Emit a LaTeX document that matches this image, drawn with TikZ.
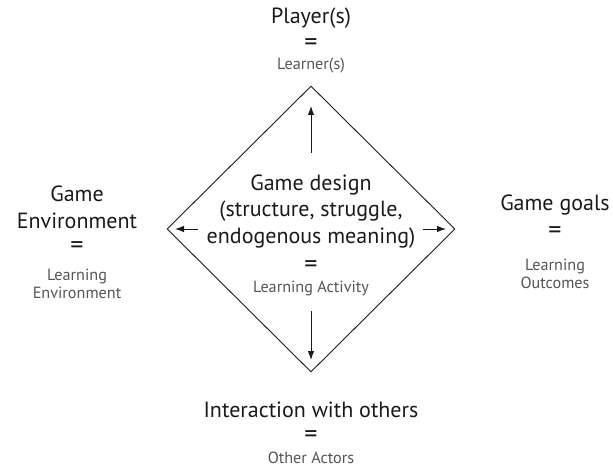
\documentclass[tikz,border=0pt]{standalone}
\usepackage{fontspec}
\setmainfont{PT Sans}
\usetikzlibrary{shapes.geometric,arrows.meta}
\definecolor{ink}{HTML}{1A1A1A}
\definecolor{soft}{HTML}{555555}
\tikzset{
  big/.style={font=\fontsize{22}{26.5}\selectfont, text=ink, inner sep=0pt, align=center},
  eqs/.style={font=\fontsize{26}{26}\selectfont, text=ink, inner sep=0pt},
  small/.style={font=\fontsize{16.2}{18}\selectfont, text=soft, inner sep=0pt, align=center},
  conn/.style={draw=ink, line width=0.9pt, -{Latex[length=9pt,width=6.5pt]}},
}
\begin{document}
\begin{tikzpicture}[x=1pt,y=1pt]
\useasboundingbox (0,0) rectangle (613,-468);
\node[diamond, draw=ink, line width=0.9pt, minimum width=288pt, minimum height=286pt, inner sep=0pt] (dia) at (311,-229) {};
% top
\node[big] (p) at (311,-18) {Player(s)};
\node[eqs] (pe) at (311,-45) {=};
\node[small] (pl) at (311,-66) {Learner(s)};
% center
\node[big] (c) at (311,-211.5) {Game design\\(structure, struggle,\\endogenous meaning)};
\node[eqs] (ce) at (311,-267) {=};
\node[small] (cl) at (311,-288) {Learning Activity};
% left
\node[big] (l) at (77,-207.5) {Game\\Environment};
\node[eqs] (le) at (77,-248) {=};
\node[small] (ll) at (77,-284) {Learning\\Environment};
% right
\node[big] (r) at (555,-205) {Game goals};
\node[eqs] (re) at (555,-233) {=};
\node[small] (rl) at (555,-273.5) {Learning\\Outcomes};
% bottom
\node[big] (b) at (311,-410) {Interaction with others};
\node[eqs] (be) at (311,-437) {=};
\node[small] (bl) at (311,-458) {Other Actors};
% arrows
\coordinate (u1) at (311,-153);
\coordinate (u2) at (311,-106);
\coordinate (d1) at (311,-311);
\coordinate (d2) at (311,-360);
\coordinate (l1) at (198,-229);
\coordinate (l2) at (175,-229);
\coordinate (r1) at (423,-229);
\coordinate (r2) at (446,-229);
\draw[conn] (u1) -- (u2);
\draw[conn] (d1) -- (d2);
\draw[conn] (l1) -- (l2);
\draw[conn] (r1) -- (r2);
\end{tikzpicture}
\end{document}
